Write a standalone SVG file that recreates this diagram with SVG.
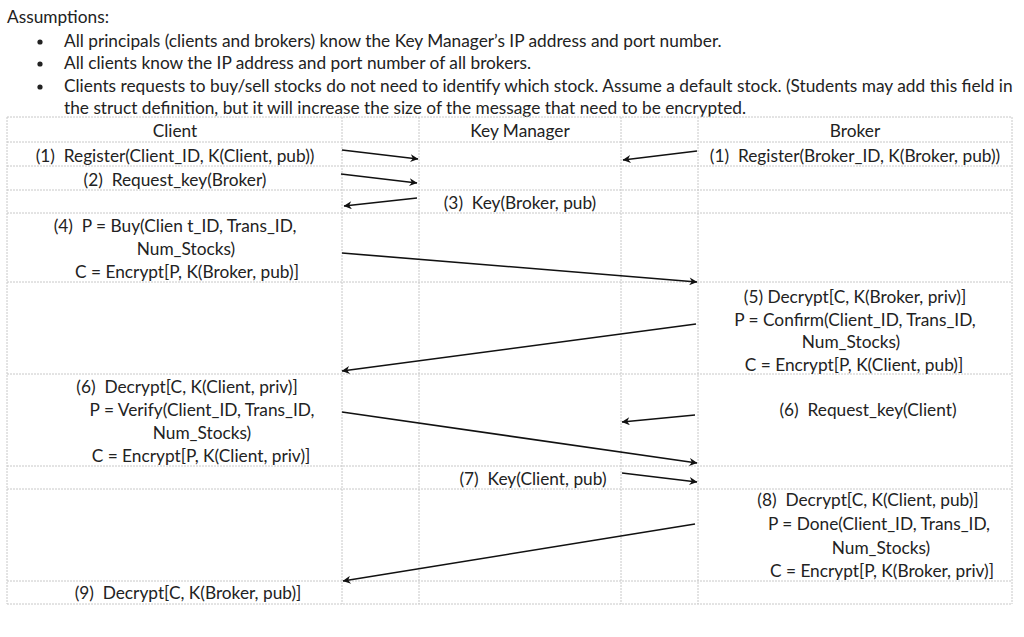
<svg xmlns="http://www.w3.org/2000/svg" width="1024" height="637" viewBox="0 0 1024 637">
<defs>
<style>
text{font-family:"Lato","Liberation Sans",sans-serif;font-size:17.3px;fill:#222}
.c{text-anchor:middle}
.grid line{stroke:#c8c8c8;stroke-width:1;stroke-dasharray:2 1}
.arrow{stroke:#111;stroke-width:1.6;fill:none;marker-end:url(#ah)}
</style>
<marker id="ah" viewBox="0 0 10 10" refX="9.5" refY="5" markerWidth="10" markerHeight="8" markerUnits="userSpaceOnUse" orient="auto">
<path d="M0,0 L10,5 L0,10 L3,5 z" fill="#111"/>
</marker>
</defs>
<rect width="1024" height="637" fill="#fff"/>
<g id="assumptions">
<text x="7" y="23">Assumptions:</text>
<circle cx="40" cy="42" r="2.6" fill="#222"/>
<circle cx="40" cy="64" r="2.6" fill="#222"/>
<circle cx="40" cy="87" r="2.6" fill="#222"/>
<text x="64" y="47">All principals (clients and brokers) know the Key Manager’s IP address and port number.</text>
<text x="64" y="69">All clients know the IP address and port number of all brokers.</text>
<text x="64" y="92">Clients requests to buy/sell stocks do not need to identify which stock. Assume a default stock. (Students may add this field in</text>
<text x="64" y="114">the struct definition, but it will increase the size of the message that need to be encrypted.</text>
</g>
<g class="grid" id="table">
<line x1="7" y1="117" x2="1012" y2="117"/>
<line x1="7" y1="142" x2="1012" y2="142"/>
<line x1="7" y1="166" x2="1012" y2="166"/>
<line x1="7" y1="190" x2="1012" y2="190"/>
<line x1="7" y1="213" x2="1012" y2="213"/>
<line x1="7" y1="282" x2="1012" y2="282"/>
<line x1="7" y1="374" x2="1012" y2="374"/>
<line x1="7" y1="466" x2="1012" y2="466"/>
<line x1="7" y1="489" x2="1012" y2="489"/>
<line x1="7" y1="581" x2="1012" y2="581"/>
<line x1="7" y1="604" x2="1012" y2="604"/>
<line x1="7" y1="117" x2="7" y2="604"/>
<line x1="342" y1="117" x2="342" y2="604"/>
<line x1="419" y1="117" x2="419" y2="604"/>
<line x1="621" y1="117" x2="621" y2="604"/>
<line x1="698" y1="117" x2="698" y2="604"/>
<line x1="1012" y1="117" x2="1012" y2="604"/>
</g>
<g id="headers">
<text class="c" x="175" y="137">Client</text>
<text class="c" x="520" y="137">Key Manager</text>
<text class="c" x="855" y="137">Broker</text>
</g>
<g id="m1-client"><text class="c" x="175" y="162" xml:space="preserve">(1)  Register(Client_ID, K(Client, pub))</text></g>
<g id="m1-broker"><text class="c" x="855" y="162" xml:space="preserve">(1)  Register(Broker_ID, K(Broker, pub))</text></g>
<g id="m2"><text class="c" x="175" y="186" xml:space="preserve">(2)  Request_key(Broker)</text></g>
<g id="m3"><text class="c" x="520" y="209" xml:space="preserve">(3)  Key(Broker, pub)</text></g>
<g id="m4">
<text class="c" x="175" y="232" xml:space="preserve">(4)  P = Buy(Clien t_ID, Trans_ID,</text>
<text class="c" x="186" y="255">Num_Stocks)</text>
<text class="c" x="187" y="278">C = Encrypt[P, K(Broker, pub)]</text>
</g>
<g id="m5">
<text class="c" x="855" y="303">(5) Decrypt[C, K(Broker, priv)]</text>
<text class="c" x="855" y="326">P = Confirm(Client_ID, Trans_ID,</text>
<text class="c" x="851" y="348">Num_Stocks)</text>
<text class="c" x="854" y="371">C = Encrypt[P, K(Client, pub)]</text>
</g>
<g id="m6-client">
<text class="c" x="187" y="393" xml:space="preserve">(6)  Decrypt[C, K(Client, priv)]</text>
<text class="c" x="202" y="416">P = Verify(Client_ID, Trans_ID,</text>
<text class="c" x="202" y="439">Num_Stocks)</text>
<text class="c" x="201" y="462">C = Encrypt[P, K(Client, priv)]</text>
</g>
<g id="m6-broker"><text class="c" x="868" y="416" xml:space="preserve">(6)  Request_key(Client)</text></g>
<g id="m7"><text class="c" x="533" y="485" xml:space="preserve">(7)  Key(Client, pub)</text></g>
<g id="m8">
<text class="c" x="868" y="506" xml:space="preserve">(8)  Decrypt[C, K(Client, pub)]</text>
<text class="c" x="879" y="530">P = Done(Client_ID, Trans_ID,</text>
<text class="c" x="881" y="554">Num_Stocks)</text>
<text class="c" x="882" y="577">C = Encrypt[P, K(Broker, priv)]</text>
</g>
<g id="m9"><text class="c" x="188" y="599" xml:space="preserve">(9)  Decrypt[C, K(Broker, pub)]</text></g>
<g id="connectors">
<line class="arrow" x1="342" y1="150" x2="418" y2="159"/>
<line class="arrow" x1="697" y1="151" x2="623" y2="160"/>
<line class="arrow" x1="341" y1="174" x2="417" y2="183"/>
<line class="arrow" x1="417" y1="198" x2="344" y2="206"/>
<line class="arrow" x1="342" y1="253" x2="697" y2="282"/>
<line class="arrow" x1="696" y1="324" x2="342" y2="371"/>
<line class="arrow" x1="342" y1="412" x2="697" y2="463"/>
<line class="arrow" x1="695" y1="415" x2="622" y2="422"/>
<line class="arrow" x1="622" y1="473" x2="697" y2="482"/>
<line class="arrow" x1="695" y1="524" x2="343" y2="581"/>
</g>
</svg>
